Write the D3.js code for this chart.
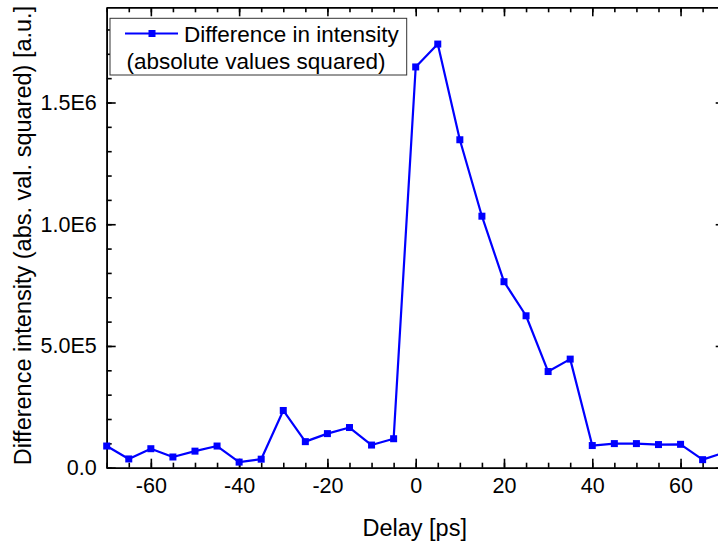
<!DOCTYPE html>
<html>

<head>
    <meta charset="UTF-8">
    <title>Difference intensity</title>
    <script src="https://d3js.org/d3.v7.min.js"></script>
    <style>
        body { margin: 0; background: white; }
        svg { display: block; font-family: "Liberation Sans", Arial, sans-serif; }
        .tick text { font-size: 21.5px; fill: black; }
        .axis-title { font-size: 23.5px; fill: black; }
        .legend-text { font-size: 22.5px; fill: black; }
    </style>
</head>

<body>
    <script>
        // data
        var delays = [-70, -65, -60, -55, -50, -45, -40, -35, -30, -25, -20, -15, -10, -5,
            0, 5, 10, 15, 20, 25, 30, 35, 40, 45, 50, 55, 60, 65, 70];
        var intensity = [89000, 36000, 78000, 44000, 68000, 89000, 23000, 35000, 235000, 107000,
            140000, 165000, 93000, 119000, 1646000, 1740000, 1347000, 1033000, 764000, 624000,
            395000, 446000, 91000, 99000, 99000, 95000, 96000, 33000, 63000];
        var xTickValues = [-60, -40, -20, 0, 20, 40, 60];
        var yTickValues = [0, 500000, 1000000, 1500000];
        var yTickLabels = ["0.0", "5.0E5", "1.0E6", "1.5E6"];

        var width = 718, height = 541;
        // plot frame (the right edge sits just outside the window, as in the reference)
        var plotLeft = 106.7, plotRight = 724.7, plotTop = 7.3, plotBottom = 467.7;

        var svg = d3.select("body").append("svg")
            .attr("width", width).attr("height", height);

        var x = d3.scaleLinear().domain([-70, 70]).range([plotLeft, plotRight]);
        var y = d3.scaleLinear().domain([0, 1891000]).range([plotBottom, plotTop]);

        var xMinor = d3.range(-70, 71, 5);
        var yMinor = d3.range(0, 1890001, 100000);

        function styleAxis(g) {
            g.selectAll("path, line").attr("stroke", "black").attr("stroke-width", 1.6);
        }

        // minor ticks first, major ticks on top (all ticks point inwards)
        svg.append("g").attr("transform", "translate(0," + plotBottom + ")")
            .call(d3.axisBottom(x).tickValues(xMinor).tickFormat("").tickSizeInner(-5).tickSizeOuter(0)).call(styleAxis);
        svg.append("g").attr("transform", "translate(0," + plotTop + ")")
            .call(d3.axisTop(x).tickValues(xMinor).tickFormat("").tickSizeInner(-5).tickSizeOuter(0)).call(styleAxis);
        svg.append("g").attr("transform", "translate(" + plotLeft + ",0)")
            .call(d3.axisLeft(y).tickValues(yMinor).tickFormat("").tickSizeInner(-5).tickSizeOuter(0)).call(styleAxis);
        svg.append("g").attr("transform", "translate(" + plotRight + ",0)")
            .call(d3.axisRight(y).tickValues(yMinor).tickFormat("").tickSizeInner(-5).tickSizeOuter(0)).call(styleAxis);

        svg.append("g").attr("transform", "translate(0," + plotBottom + ")")
            .call(d3.axisBottom(x).tickValues(xTickValues).tickSizeInner(-9).tickSizeOuter(0).tickPadding(10)
                .tickFormat(function (d) { return String(d); })).call(styleAxis);
        svg.append("g").attr("transform", "translate(0," + plotTop + ")")
            .call(d3.axisTop(x).tickValues(xTickValues).tickFormat("").tickSizeInner(-9).tickSizeOuter(0)).call(styleAxis);
        svg.append("g").attr("transform", "translate(" + plotLeft + ",0)")
            .call(d3.axisLeft(y).tickValues(yTickValues).tickSizeInner(-9).tickSizeOuter(0).tickPadding(10)
                .tickFormat(function (d, i) { return yTickLabels[i]; })).call(styleAxis);
        svg.append("g").attr("transform", "translate(" + plotRight + ",0)")
            .call(d3.axisRight(y).tickValues(yTickValues).tickFormat("").tickSizeInner(-9).tickSizeOuter(0)).call(styleAxis);

        // axis titles
        svg.append("text").classed("axis-title", true)
            .attr("x", (plotLeft + plotRight) / 2 - 1).attr("y", 535.5)
            .attr("text-anchor", "middle").text("Delay [ps]");

        svg.append("text").classed("axis-title", true)
            .attr("transform", "translate(31," + ((plotTop + plotBottom) / 2 - 2) + ") rotate(-90)")
            .attr("text-anchor", "middle")
            .text("Difference intensity (abs. val. squared) [a.u.]");

        // series
        var points = delays.map(function (d, i) { return [d, intensity[i]]; });

        var line = d3.line().x(function (d) { return x(d[0]); }).y(function (d) { return y(d[1]); });

        svg.append("path").datum(points)
            .attr("d", line)
            .attr("fill", "none").attr("stroke", "#0000ff").attr("stroke-width", 2.2)
            .attr("stroke-linejoin", "round");

        svg.selectAll(".marker").data(points).enter().append("rect")
            .classed("marker", true)
            .attr("x", function (d) { return x(d[0]) - 3.5; })
            .attr("y", function (d) { return y(d[1]) - 3.5; })
            .attr("width", 7).attr("height", 7)
            .attr("fill", "#0000ff");

        // legend
        var legend = svg.append("g");
        legend.append("rect")
            .attr("x", 110).attr("y", 18.3).attr("width", 296.7).attr("height", 56.7)
            .attr("fill", "white").attr("stroke", "#333").attr("stroke-width", 1);
        legend.append("line")
            .attr("x1", 125).attr("x2", 178).attr("y1", 33.5).attr("y2", 33.5)
            .attr("stroke", "#0000ff").attr("stroke-width", 2.2);
        legend.append("rect")
            .attr("x", 148.5).attr("y", 30).attr("width", 7).attr("height", 7)
            .attr("fill", "#0000ff");
        legend.append("text").classed("legend-text", true)
            .attr("x", 184).attr("y", 41.7).text("Difference in intensity");
        legend.append("text").classed("legend-text", true)
            .attr("x", 126.5).attr("y", 68.5).text("(absolute values squared)");
    </script>
</body>

</html>
